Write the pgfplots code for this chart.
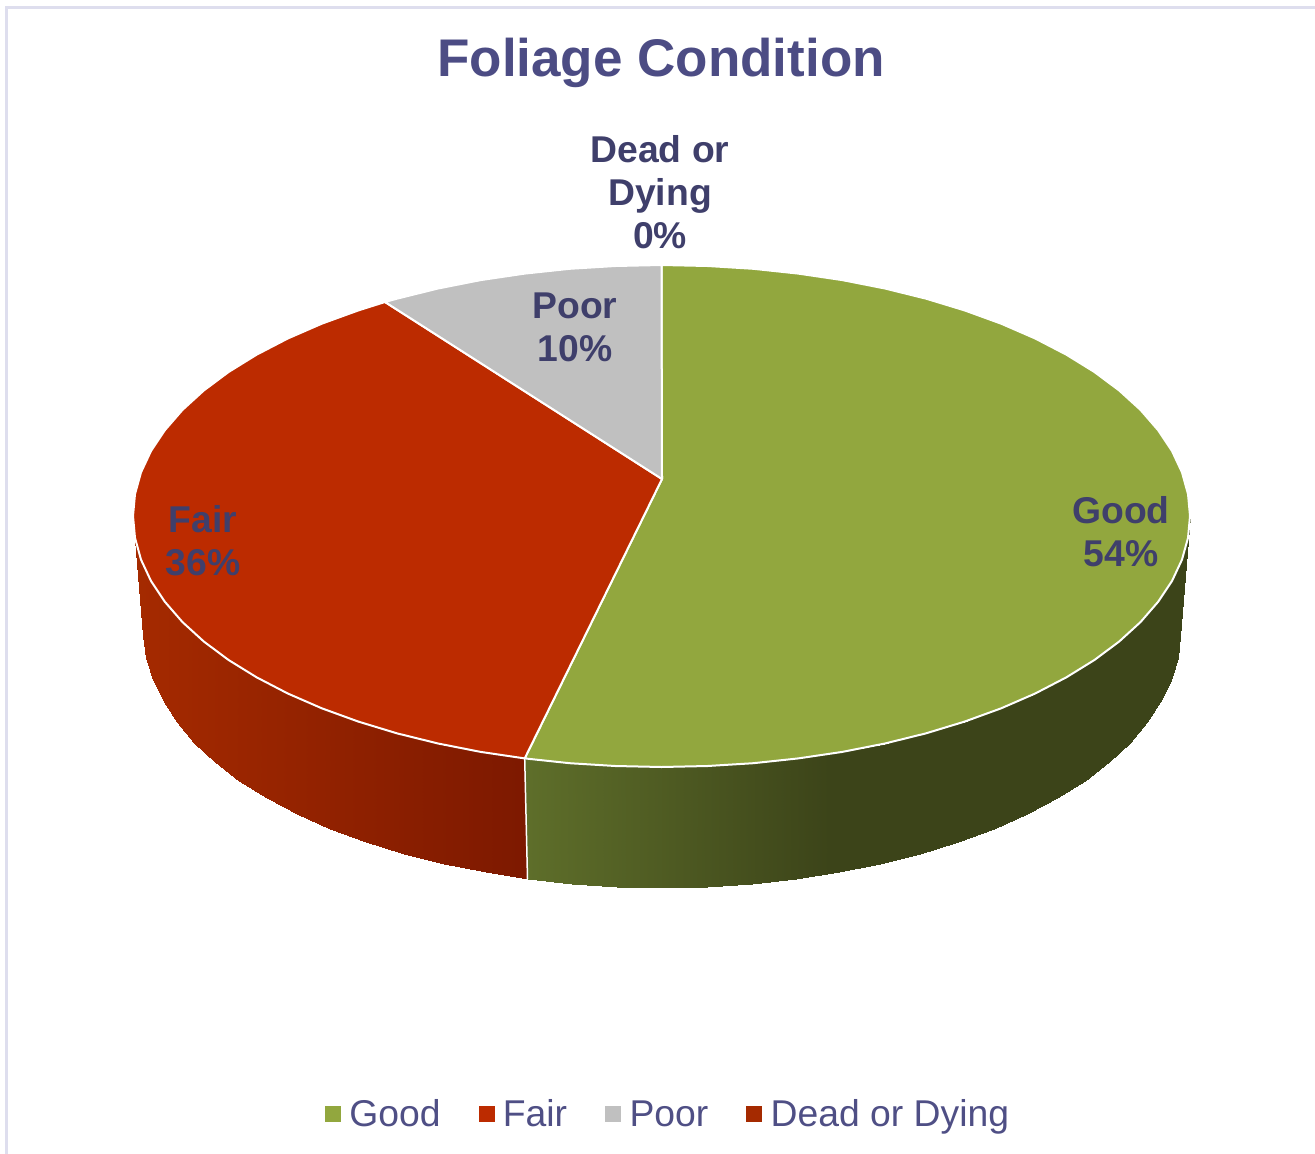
\documentclass[border=0pt]{standalone}
\usepackage{pgfplots}
\pgfplotsset{compat=1.18}
\usepackage{fontspec}
\setmainfont{Liberation Sans}
\definecolor{goodc}{RGB}{146,167,62}
\definecolor{fairc}{RGB}{188,43,0}
\definecolor{poorc}{RGB}{192,192,192}
\definecolor{deadc}{RGB}{165,42,0}
\definecolor{titlec}{RGB}{76,76,132}
\definecolor{labelc}{RGB}{63,63,107}
\definecolor{legc}{RGB}{79,79,133}
\definecolor{framec}{RGB}{222,222,238}
\pgfplotsset{
  colormap={greenside}{rgb255(0)=(94,110,42) rgb255(528)=(94,110,42) rgb255(830)=(60,68,25) rgb255(1315)=(60,68,25)},
  colormap={redside}{rgb255(0)=(165,42,0) rgb255(134)=(165,42,0) rgb255(526)=(125,25,0) rgb255(1315)=(125,25,0)},
}
\tikzset{lab/.style={text=labelc,align=center,font=\fontsize{37.3}{43}\selectfont\bfseries}}
\begin{document}
\begin{tikzpicture}
\path[use as bounding box] (0,0) rectangle (1315pt,1154pt);
\begin{axis}[
  at={(0,0)},anchor=south west,
  scale only axis,width=1315pt,height=1154pt,
  xmin=0,xmax=1315,ymin=0,ymax=1154,y dir=reverse,
  hide axis,clip=true,
  point meta min=0,point meta max=1315,
  legend columns=4,
  legend style={at={(axis cs:668,1114)},anchor=center,draw=none,fill=none,inner sep=0pt,outer sep=0pt,
    font=\fontsize{37.3}{40}\selectfont\color{legc},
    /tikz/column 1/.style={column sep=7pt},
    /tikz/column 2/.style={column sep=36pt},
    /tikz/column 3/.style={column sep=7pt},
    /tikz/column 4/.style={column sep=36pt},
    /tikz/column 5/.style={column sep=7pt},
    /tikz/column 6/.style={column sep=36pt},
    /tikz/column 7/.style={column sep=7pt},
    legend cell align=left,
    cells={anchor=west}},
]
% frame
\addplot[framec,line width=3pt,forget plot] coordinates {(6.5,1154)(6.5,7)(1315,7)};
% side walls
\addplot[surf,shader=interp,colormap name=redside,point meta=x,mesh/rows=2,mesh/cols=16,forget plot] coordinates {
(133,516)(135,537.9)(141,559.6)(151,581)(164.9,601.8)(182.5,622.1)(203.8,641.5)(228.6,660)(256.6,677.3)(287.8,693.5)(321.8,708.3)(358.4,721.6)(397.2,733.4)(438.1,743.5)(480.7,751.9)(524.7,758.4)

(143,636)(146.5,658)(153,680.1)(163.6,701.5)(177.1,722.3)(194.3,742.6)(215.1,762)(239.3,780.5)(266.7,797.8)(297.1,814)(330.3,828.8)(366,842.1)(404,853.9)(443.9,864)(485.5,872.4)(528.4,878.9)
};
\addplot[surf,shader=interp,colormap name=greenside,point meta=x,mesh/rows=2,mesh/cols=22,forget plot] coordinates {
(524.7,758.4)(569.7,763.2)(615.4,766)(661.5,767)(707.6,766)(753.3,763.2)(798.3,758.4)(842.3,751.9)(884.9,743.5)(925.8,733.4)(964.6,721.6)(1001.2,708.3)(1035.2,693.5)(1066.4,677.3)(1094.4,660)(1119.2,641.5)(1140.5,622.1)(1158.1,601.8)(1172,581)(1182,559.6)(1188,537.9)(1190,516)

(528.4,878.9)(572.4,883.7)(617,886.5)(662,887.5)(707,886.5)(751.6,883.7)(795.6,878.9)(838.5,872.4)(880.1,864)(920,853.9)(958,842.1)(993.7,828.8)(1026.9,814)(1057.3,797.8)(1084.7,780.5)(1108.9,762)(1129.7,742.6)(1146.9,722.3)(1160.4,701.5)(1171,680.1)(1177.5,658)(1180,636)
};
\addplot[white,line width=1.5pt,forget plot] coordinates {(524.7,758.4)(527.5,878.9)};
% top faces
\addplot[fill=goodc,draw=white,line width=2pt,line join=round,forget plot] coordinates {
(662,479)(661.5,265)(707.6,266)(753.3,268.8)(798.3,273.6)(842.3,280.1)(884.9,288.5)(925.8,298.6)(964.6,310.4)(1001.2,323.7)(1035.2,338.5)(1066.4,354.7)(1094.4,372)(1119.2,390.5)(1140.5,409.9)(1158.1,430.2)(1172,451)(1182,472.4)(1188,494.1)(1190,516)(1188,537.9)(1182,559.6)(1172,581)(1158.1,601.8)(1140.5,622.1)(1119.2,641.5)(1094.4,660)(1066.4,677.3)(1035.2,693.5)(1001.2,708.3)(964.6,721.6)(925.8,733.4)(884.9,743.5)(842.3,751.9)(798.3,758.4)(753.3,763.2)(707.6,766)(661.5,767)(615.4,766)(569.7,763.2)(524.7,758.4)
} -- cycle;
\addplot[fill=fairc,draw=white,line width=2pt,line join=round,forget plot] coordinates {
(662,479)(524.7,758.4)(480.7,751.9)(438.1,743.5)(397.2,733.4)(358.4,721.6)(321.8,708.3)(287.8,693.5)(256.6,677.3)(228.6,660)(203.8,641.5)(182.5,622.1)(164.9,601.8)(151,581)(141,559.6)(135,537.9)(133,516)(135,494.1)(141,472.4)(151,451)(164.9,430.2)(182.5,409.9)(203.8,390.5)(228.6,372)(256.6,354.7)(287.8,338.5)(321.8,323.7)(358.4,310.4)(385,302)
} -- cycle;
\addplot[fill=poorc,draw=white,line width=2pt,line join=round,forget plot] coordinates {
(662,479)(385,302)(397.2,298.6)(438.1,288.5)(480.7,280.1)(524.7,273.6)(569.7,268.8)(615.4,266)(661.5,265)
} -- cycle;
% legend
\addlegendimage{legend image code/.code={\fill[goodc] (0pt,-7.5pt) rectangle (15pt,7.5pt);}}
\addlegendentry{Good}
\addlegendimage{legend image code/.code={\fill[fairc] (0pt,-7.5pt) rectangle (15pt,7.5pt);}}
\addlegendentry{Fair}
\addlegendimage{legend image code/.code={\fill[poorc] (0pt,-7.5pt) rectangle (15pt,7.5pt);}}
\addlegendentry{Poor}
\addlegendimage{legend image code/.code={\fill[deadc] (0pt,-7.5pt) rectangle (15pt,7.5pt);}}
\addlegendentry{Dead or Dying}
% text
\node[text=titlec,font=\fontsize{53}{58}\selectfont\bfseries] at (axis cs:661,63) {Foliage Condition};
\node[lab] at (axis cs:660,192) {Dead or\\Dying\\0\%};
\node[lab] at (axis cs:575,327) {Poor\\10\%};
\node[lab] at (axis cs:1121,532) {Good\\54\%};
\node[lab] at (axis cs:203,541) {Fair\\36\%};
\end{axis}
\end{tikzpicture}
\end{document}
